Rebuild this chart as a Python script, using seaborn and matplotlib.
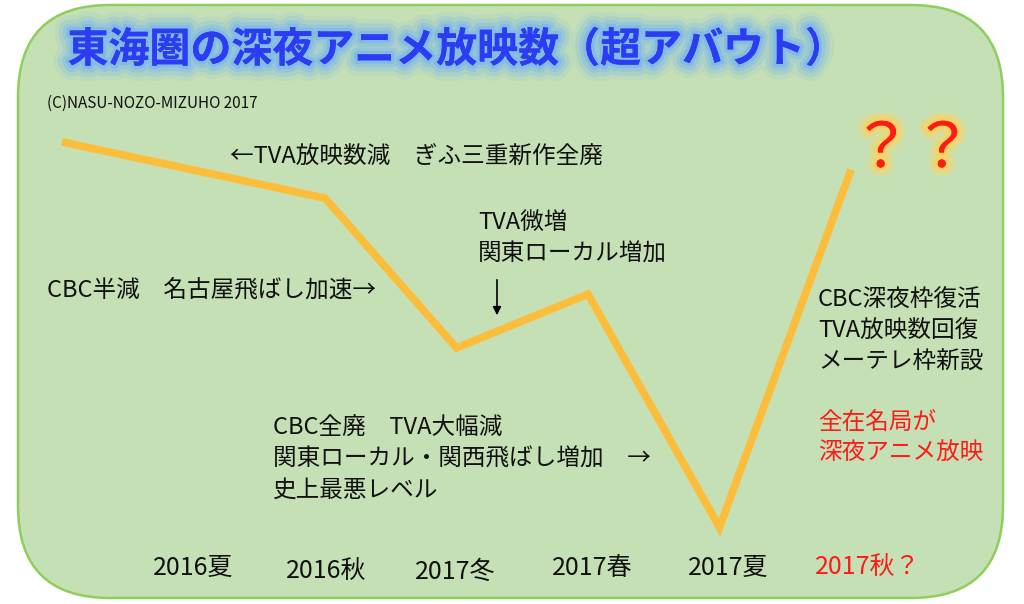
import matplotlib
matplotlib.use("Agg")
import matplotlib.pyplot as plt
import matplotlib.patheffects as pe
from matplotlib.patches import FancyBboxPatch
import seaborn as sns

# Data (rough "super approximate" levels)
seasons = ["2016夏", "2016秋", "2017冬", "2017春", "2017夏", "2017秋？"]
line_x = [-1, 1, 2, 3, 4, 5]            # season index of each vertex
line_values = [76.5, 67.2, 42.4, 51.3, 12.7, 71.9]

title = "東海圏の深夜アニメ放映数（超アバウト）"
credit = "(C)NASU-NOZO-MIZUHO 2017"

sns.set_theme(style="white")
plt.rcParams["font.family"] = ["Noto Sans CJK JP", "DejaVu Sans"]

W, H = 1024, 604
fig = plt.figure(figsize=(W / 100, H / 100), dpi=100)
fig.patch.set_facecolor("white")


def px(x, y):
    # pixel position (top-left origin) -> figure fraction
    return x / W, 1 - y / H


# rounded green panel
bg = fig.add_axes([0, 0, 1, 1])
bg.set_xlim(0, W)
bg.set_ylim(H, 0)
bg.axis("off")
bg.add_patch(FancyBboxPatch((18 + 92, 5 + 92), 985 - 2 * 92, 593 - 2 * 92,
                            boxstyle="round,pad=92", facecolor="#c6e0b5",
                            edgecolor="#8fce5c", linewidth=1.8))

# data axes
ax = fig.add_axes([0, 0, 1, 1])
ax.patch.set_alpha(0)
sns.lineplot(x=line_x, y=line_values, ax=ax, color="#fbbd3a", linewidth=5.5,
             sort=False, legend=False)
for ln in ax.lines:
    ln.set_solid_capstyle("butt")
    ln.set_solid_joinstyle("miter")
ax.set_xlim((0 - 193.5) / 131.5, (W - 193.5) / 131.5)
ax.set_ylim(0, 100)
ax.axis("off")

# season labels along the bottom
label_dx = [0, 0.01, -0.01, 0.03, 0.07, 0.13]
label_y = [568, 572, 572, 568, 568, 568]
for i, s in enumerate(seasons):
    c = "#ff1a1a" if i == len(seasons) - 1 else "#111111"
    ax.text(i + label_dx[i], 1 - label_y[i] / H, s, transform=ax.get_xaxis_transform(),
            ha="center", va="center", fontsize=18, color=c)

# title with soft blue glow
glow = "#7fb9ea"
fig.text(*px(457, 50), title, ha="center", va="center", fontsize=29.5,
         fontweight="bold", color="#2b3cf2",
         path_effects=[pe.withStroke(linewidth=22, foreground=glow, alpha=0.15),
                       pe.withStroke(linewidth=16, foreground=glow, alpha=0.25),
                       pe.withStroke(linewidth=10, foreground=glow, alpha=0.45),
                       pe.withStroke(linewidth=5, foreground=glow, alpha=0.8),
                       pe.Normal()])
fig.text(*px(47, 103), credit, ha="left", va="center", fontsize=11, color="#111111")

# question marks with warm glow
qglow = "#ffd35a"
fig.text(*px(912, 150), "？？", ha="center", va="center", fontsize=44,
         color="#ff1a1a",
         path_effects=[pe.withStroke(linewidth=14, foreground=qglow, alpha=0.25),
                       pe.withStroke(linewidth=8, foreground=qglow, alpha=0.5),
                       pe.withStroke(linewidth=4, foreground=qglow, alpha=0.8),
                       pe.Normal()])


def note(x, y, lines, color="#111111", step=31):
    for k, t in enumerate(lines):
        fig.text(*px(x, y + k * step), t, ha="left", va="center",
                 fontsize=17, color=color)


note(230, 157, ["←TVA放映数減　ぎふ三重新作全廃"])
note(478, 222, ["TVA微増", "関東ローカル増加"], step=32)
note(47, 290, ["CBC半減　名古屋飛ばし加速→"])
note(273, 428, ["CBC全廃　TVA大幅減", "関東ローカル・関西飛ばし増加　→", "史上最悪レベル"])
note(818, 300, ["CBC深夜枠復活", "TVA放映数回復", "メーテレ枠新設"])
note(818, 422, ["全在名局が", "深夜アニメ放映"], color="#ff1a1a")

# small down arrow under the "TVA微増" note
ax.annotate("", xy=px(497, 318), xytext=px(497, 277),
            xycoords="figure fraction", textcoords="figure fraction",
            arrowprops=dict(arrowstyle="-|>", color="black", lw=1.2,
                            mutation_scale=12))

fig.savefig("out.png", dpi=100)
